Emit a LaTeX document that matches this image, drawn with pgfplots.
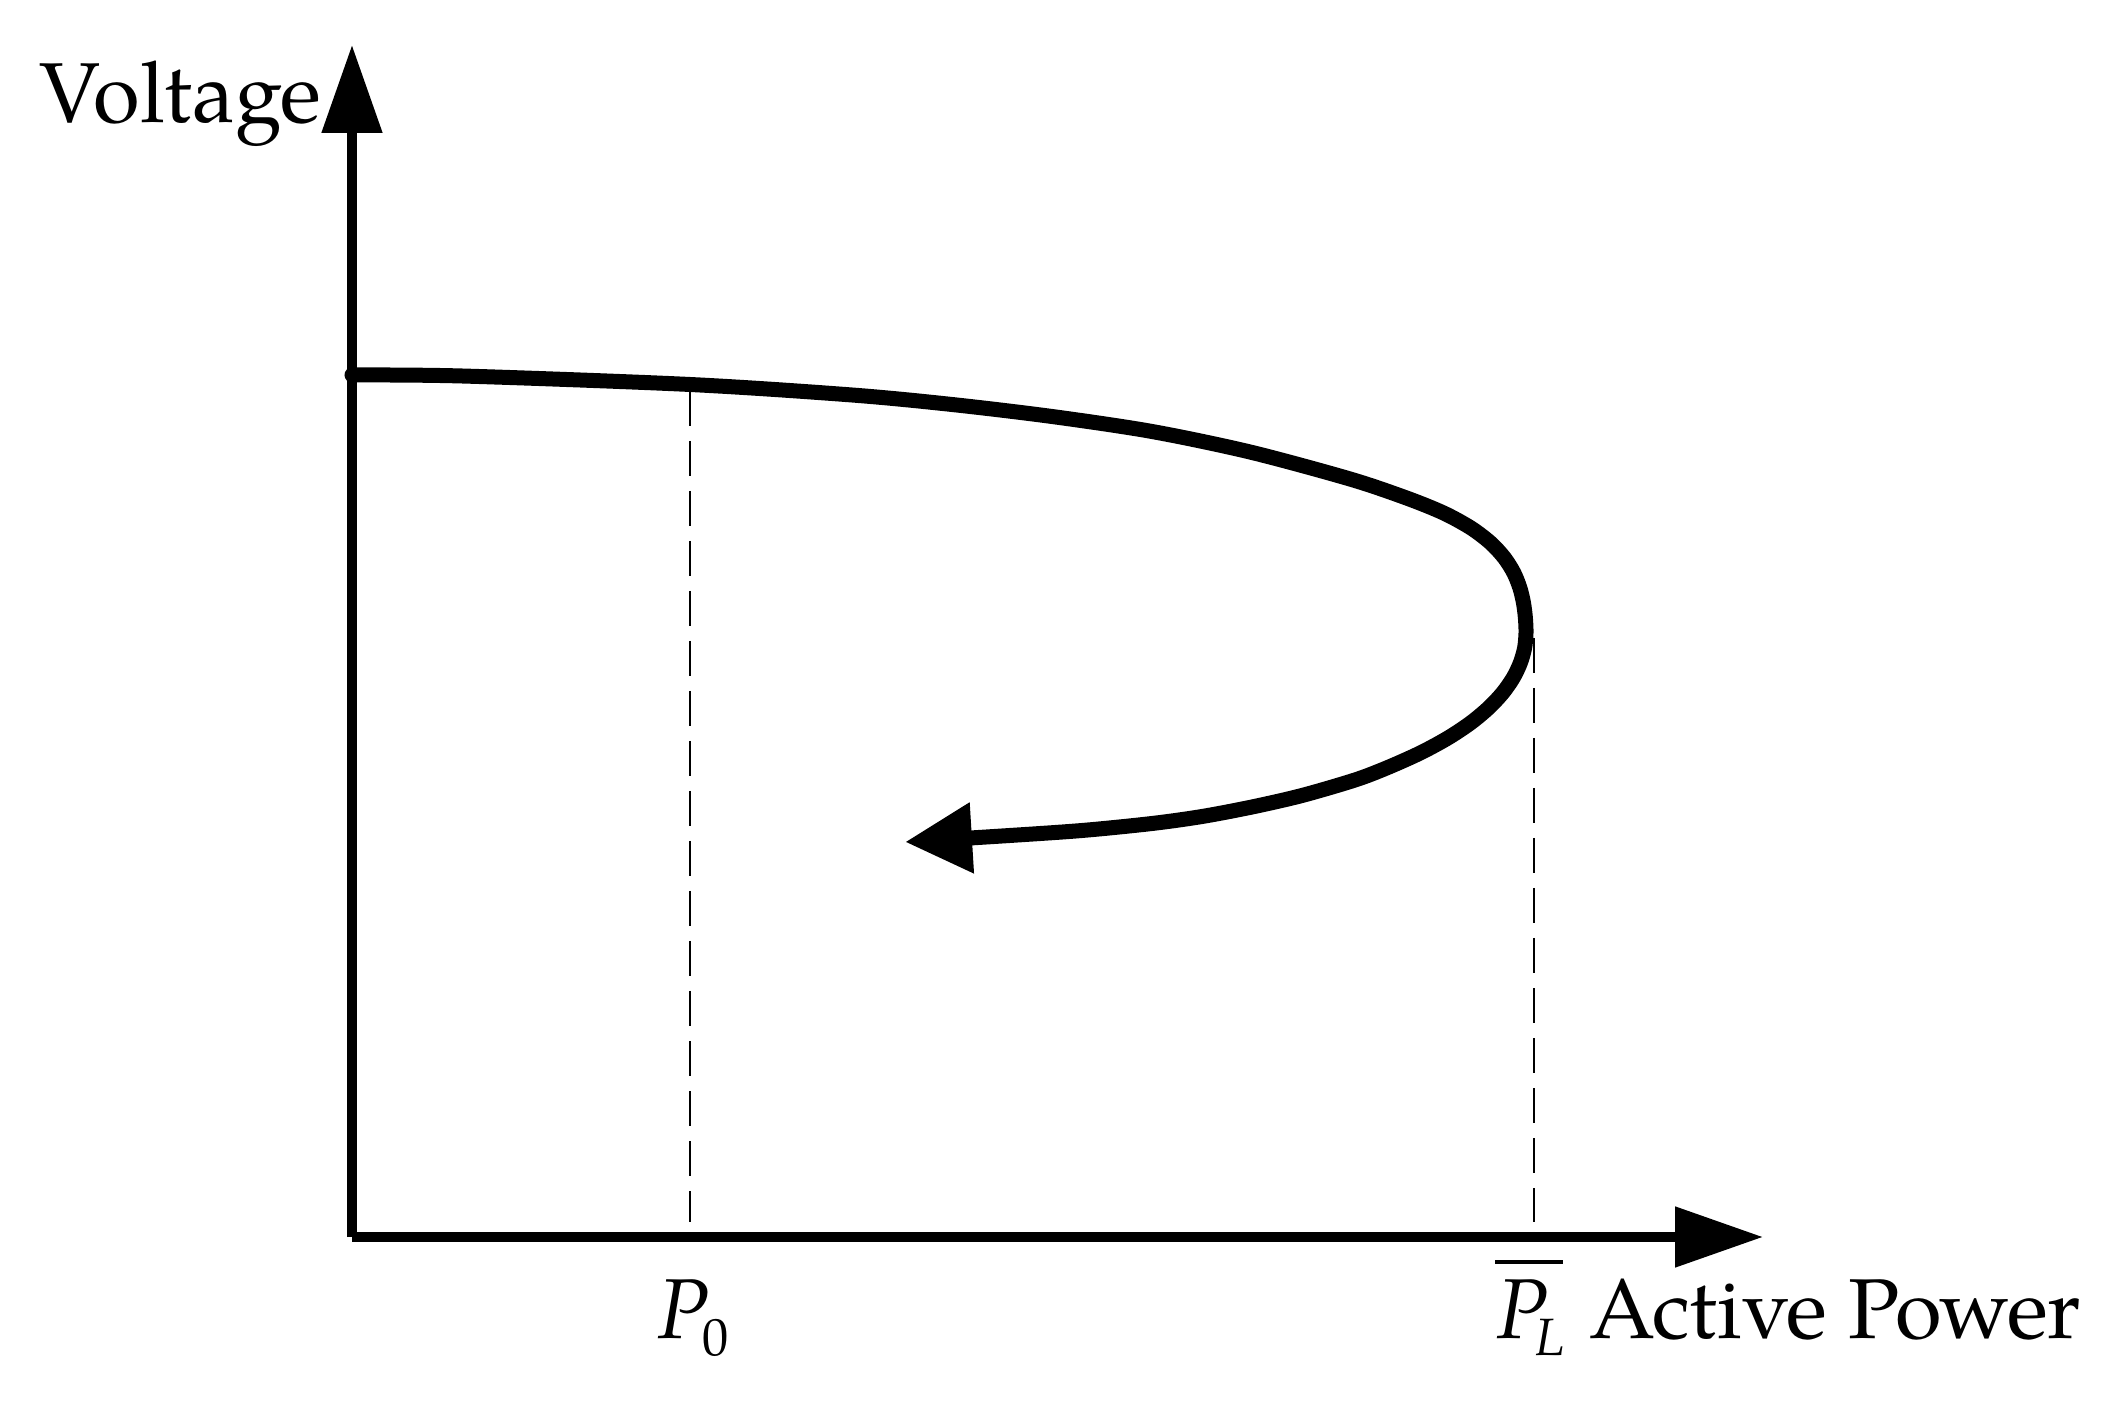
\documentclass[border=0pt]{standalone}
\usepackage{fontspec}
\setmainfont{TeX Gyre Pagella}
\usepackage{pgfplots}
\pgfplotsset{compat=1.18}
\usetikzlibrary{arrows.meta}

\begin{document}
\begin{tikzpicture}
\useasboundingbox (-70.4pt,-33.6pt) rectangle (355.0pt,247.4pt);
\begin{axis}[
  x=0.2pt, y=0.2pt,
  xmin=0, xmax=1411, ymin=0, ymax=1192,
  enlargelimits=false,
  axis lines=left,
  axis line style={line width=2.0pt, -{Triangle[length=17.6pt,width=11.7pt]}},
  xtick=\empty, ytick=\empty,
  clip=false,
]
% PV nose curve (upper branch, nose, lower branch)
\addplot[line width=3.0pt, smooth, tension=0.5, line cap=round, -{Triangle[length=13.4pt,width=13.4pt]}] coordinates {
  (0,862) (110,861) (338,852.5) (500,842) (600,832.5) (700,820.5) (800,805.5)
  (898,785) (998,758) (1054.5,739) (1091.6,724) (1119,709) (1138.7,694)
  (1152.5,679) (1161.9,664) (1167.9,649) (1171.5,634) (1173.4,619) (1174,604)
  (1172.6,589) (1168.3,574) (1161.1,559) (1150.6,544) (1136.5,529)
  (1118.5,514) (1095.9,499) (1068.2,484) (1034.6,469) (1003,457)
  (950,441.5) (900,430) (850,420.5) (800,413.5) (730,406.5) (650,401) (553,395)
};
% dashed projections
\addplot[line width=0.5pt, dash pattern=on 7pt off 3pt] coordinates {(338,846) (338,15)};
\addplot[line width=0.5pt, dash pattern=on 7pt off 3pt] coordinates {(1182,599) (1182,15)};

\node[anchor=base west, inner sep=0pt, font=\fontsize{17}{20}\selectfont] at (axis cs:-313,1114) {Voltage};
\node[anchor=base west, inner sep=0pt, font=\fontsize{17}{20}\selectfont] at (axis cs:305,-101) {\textit{P}\hspace{-1.5pt}\raisebox{-3.5pt}{\fontsize{10.5}{12}\selectfont 0}};
\node[anchor=base west, inner sep=0pt, font=\fontsize{17}{20}\selectfont] at (axis cs:1142,-101) {\rlap{\rule[14.8pt]{13.6pt}{0.85pt}}\hspace{0.2pt}\textit{P}\hspace{-2.5pt}\raisebox{-3.5pt}{\fontsize{10.5}{12}\selectfont\textit{L}}};
\node[anchor=base west, inner sep=0pt, font=\fontsize{17}{20}\selectfont] at (axis cs:1236,-101) {Active Power};
\end{axis}
\end{tikzpicture}
\end{document}
